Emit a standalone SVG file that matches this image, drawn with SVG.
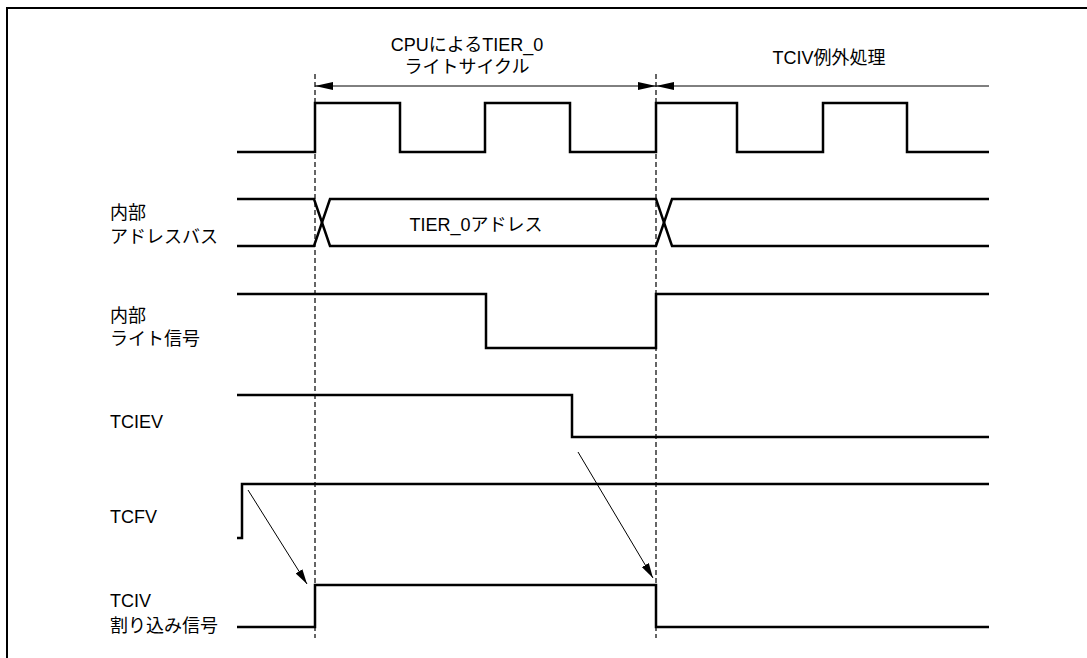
<svg xmlns="http://www.w3.org/2000/svg" width="1087" height="658" viewBox="0 0 1087 658">
<style>
.sig{fill:none;stroke:#000;stroke-width:2.5;stroke-linejoin:miter}
.dash{fill:none;stroke:#333;stroke-width:1.5;stroke-dasharray:5,3}
.thin{fill:none;stroke:#000;stroke-width:1}
.lbl{font-family:"Liberation Sans","Noto Sans CJK JP",sans-serif;font-size:18px;fill:#000}
.frame{fill:none;stroke:#000;stroke-width:2}
</style>
<defs>
<marker id="ah" viewBox="0 0 15 8" refX="15" refY="4" markerWidth="15" markerHeight="8" markerUnits="userSpaceOnUse" orient="auto">
<path d="M0,0 L15,4 L0,8 Z" fill="#000"/>
</marker>
<marker id="dh" viewBox="0 0 18 8" refX="18" refY="4" markerWidth="18" markerHeight="8" markerUnits="userSpaceOnUse" orient="auto-start-reverse">
<path d="M0,0 L18,4 L0,8 Z" fill="#000"/>
</marker>
</defs>
<path class="frame" d="M7,658 V8 H1087"/>
<g id="dims">
<line class="dash" x1="315" y1="74" x2="315" y2="638"/>
<line class="dash" x1="656" y1="74" x2="656" y2="638"/>
<line class="thin" x1="315" y1="86" x2="656" y2="86" marker-start="url(#dh)" marker-end="url(#dh)"/>
<line class="thin" x1="656" y1="86" x2="989" y2="86" marker-start="url(#dh)"/>
<text class="lbl" x="467" y="51" text-anchor="middle">CPUによるTIER_0</text>
<text class="lbl" x="467" y="73" text-anchor="middle">ライトサイクル</text>
<text class="lbl" x="829" y="64" text-anchor="middle">TCIV例外処理</text>
</g>
<g id="clock">
<path class="sig" d="M237,152 H315 V103 H400 V152 H485 V103 H570 V152 H656 V103 H737 V152 H823 V103 H907 V152 H989"/>
</g>
<g id="addrbus">
<text class="lbl" x="110" y="219">内部</text>
<text class="lbl" x="110" y="243">アドレスバス</text>
<path class="sig" d="M237,199 H314 L330,246 H656 L672,199 H989"/>
<path class="sig" d="M237,246 H314 L330,199 H656 L672,246 H989"/>
<text class="lbl" x="476" y="231" text-anchor="middle">TIER_0アドレス</text>
</g>
<g id="write">
<text class="lbl" x="110" y="322">内部</text>
<text class="lbl" x="110" y="345">ライト信号</text>
<path class="sig" d="M237,294 H486 V348 H656 V294 H989"/>
</g>
<g id="tciev">
<text class="lbl" x="110" y="428">TCIEV</text>
<path class="sig" d="M237,395 H572 V437 H989"/>
</g>
<g id="tcfv">
<text class="lbl" x="110" y="523">TCFV</text>
<path class="sig" d="M237,538 H242 V484 H989"/>
</g>
<g id="tciv">
<text class="lbl" x="110" y="607">TCIV</text>
<text class="lbl" x="110" y="632">割り込み信号</text>
<path class="sig" d="M237,627 H315 V585 H656 V627 H989"/>
</g>
<g id="connectors">
<line class="thin" x1="248" y1="490" x2="307" y2="584" marker-end="url(#ah)"/>
<line class="thin" x1="578" y1="452" x2="653" y2="578" marker-end="url(#ah)"/>
</g>
</svg>
